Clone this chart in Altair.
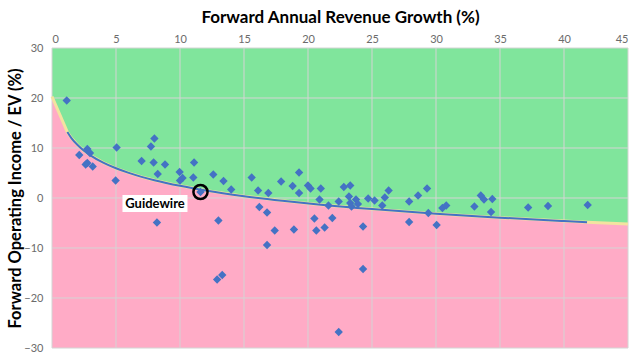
import altair as alt
import pandas as pd

# Scatter values (x = forward revenue growth %, y = forward op income / EV %)
growth = [1.15, 2.13, 2.76, 2.97, 2.76, 2.63, 3.18, 5.05, 4.97, 7.0, 7.73, 8.0, 7.94, 8.83, 8.26,
          9.97, 10.2, 10.0, 11.1, 11.04, 11.6, 12.6, 13.4, 14.0, 15.6, 16.1, 16.9, 17.9, 19.3, 18.8,
          19.3, 20.0, 20.2, 21.0, 20.9, 21.6, 22.4, 16.2, 16.8, 20.5, 21.9, 22.8, 23.3, 23.2, 23.3,
          23.4, 23.75, 23.9, 24.7, 25.2, 26.0, 26.3, 25.8, 27.9, 28.6, 29.3, 29.4, 30.5, 30.8, 33.0,
          33.5, 33.75, 27.9, 30.05, 34.4, 34.3, 37.2, 38.75, 41.85, 13.0, 17.4, 18.9, 16.8, 12.9,
          13.3, 20.65, 21.3, 24.3, 24.3, 22.4, 8.2]
op_income = [19.5, 8.6, 9.8, 9.0, 7.0, 6.7, 6.3, 10.1, 3.5, 7.4, 10.3, 11.9, 7.1, 6.7, 4.8,
             5.2, 4.0, 3.5, 7.1, 4.1, 1.2, 4.7, 3.4, 1.7, 4.1, 1.5, 1.0, 3.3, 5.1, 2.4,
             1.0, 2.5, 1.9, 1.9, -0.3, -1.5, -0.7, -1.8, -2.9, -4.1, -4.0, 2.2, 2.5, 0.3, -1.0,
             -1.7, -0.3, -1.2, -0.1, -0.5, 0.1, 1.5, -1.5, -0.7, 0.5, 1.9, -3.0, -2.0, -1.5, -1.7,
             0.5, -0.3, -4.8, -5.4, -0.2, -2.8, -1.9, -1.6, -1.4, -4.5, -6.5, -6.3, -9.4, -16.3,
             -15.4, -6.5, -5.9, -5.7, -14.2, -26.8, -4.9]

# Boundary between zones (trend curve)
boundary_x = [0, 1.2, 1.5, 2, 2.5, 3, 4, 5, 6, 7, 8, 10, 12, 15, 18, 21, 25, 30, 35, 40, 41.8, 45]
boundary_y = [20.3, 13.2, 12.04, 10.59, 9.45, 8.53, 7.07, 5.94, 5.02, 4.23, 3.56, 2.43, 1.50,
              0.37, -0.55, -1.34, -2.22, -3.14, -3.93, -4.60, -4.83, -5.2]

x_ticks = [0, 5, 10, 15, 20, 25, 30, 35, 40, 45]
y_ticks = [-30, -20, -10, 0, 10, 20, 30]

highlight_name = ["Guidewire"]
highlight_x = [11.6]
highlight_y = [1.2]

pts = pd.DataFrame({"g": growth, "oi": op_income})
bnd = pd.DataFrame({"g": boundary_x, "b": boundary_y, "top": 30, "bottom": -30})
trend = bnd[(bnd["g"] >= 1.2) & (bnd["g"] <= 41.8)]
hl = pd.DataFrame({"name": highlight_name, "g": highlight_x, "oi": highlight_y})
xg = pd.DataFrame({"v": x_ticks})
yg = pd.DataFrame({"v": y_ticks})

xs = alt.Scale(domain=[0, 45], nice=False, zero=False)
ys = alt.Scale(domain=[-30, 30], nice=False, zero=False)

FONT = "Lato"
X_TITLE = "Forward Annual Revenue Growth (%)"
Y_TITLE = "Forward Operating Income / EV (%)"

x_axis = alt.Axis(orient="top", values=x_ticks, grid=False, domain=False, ticks=False,
                  labelColor="#6b6b6b", labelFont=FONT, labelFontSize=11, labelPadding=4,
                  titleFont=FONT, titleFontSize=17,
                  titleFontWeight="bold", titleColor="black", titleY=-31, titleBaseline="middle")
y_axis = alt.Axis(values=y_ticks, grid=False, domain=False, ticks=False,
                  labelColor="#6b6b6b", labelFont=FONT, labelFontSize=11, labelPadding=9,
                  titleFont=FONT, titleFontSize=16.5,
                  titleFontWeight="bold", titleColor="black", titleX=-37, titleBaseline="middle")


def X(field):
    return alt.X(field, scale=xs, axis=x_axis, title=X_TITLE)


def Y(field):
    return alt.Y(field, scale=ys, axis=y_axis, title=Y_TITLE)


pink = alt.Chart(bnd).mark_area(color="#FFABC6", opacity=1).encode(
    x=X("g:Q"), y=Y("bottom:Q"), y2="b:Q")
green = alt.Chart(bnd).mark_area(color="#80E59C", opacity=1).encode(
    x=X("g:Q"), y=Y("b:Q"), y2="top:Q")
vgrid = alt.Chart(xg).mark_rule(color="#D4D4D4", strokeWidth=1).encode(x=X("v:Q"))
hgrid = alt.Chart(yg).mark_rule(color="#D4D4D4", strokeWidth=1).encode(y=Y("v:Q"))
yellow = alt.Chart(bnd).mark_line(color="#F3E3A0", strokeWidth=3).encode(
    x=X("g:Q"), y=Y("b:Q"))
blue = alt.Chart(trend).mark_line(color="#4472C4", strokeWidth=2, interpolate="monotone").encode(
    x=X("g:Q"), y=Y("b:Q"))
dots = alt.Chart(pts).mark_point(shape="diamond", filled=True, size=70, color="#4472C4",
                                 opacity=1).encode(x=X("g:Q"), y=Y("oi:Q"))
ring = alt.Chart(hl).mark_point(shape="circle", filled=False, size=200, color="black",
                                strokeWidth=2.5, opacity=1).encode(x=X("g:Q"), y=Y("oi:Q"))
box = alt.Chart(hl).mark_rect(color="white", xOffset=-78, x2Offset=-13, yOffset=3,
                              y2Offset=20).encode(
    x=X("g:Q"), x2="g:Q", y=Y("oi:Q"), y2="oi:Q")
label = alt.Chart(hl).mark_text(font=FONT, fontSize=13, fontWeight="bold", color="black",
                                dx=-45.5, dy=12, align="center", baseline="middle").encode(
    x=X("g:Q"), y=Y("oi:Q"), text="name:N")

chart = alt.layer(pink, green, vgrid, hgrid, yellow, blue, dots, ring, box, label).properties(
    width=576, height=300,
    autosize=alt.AutoSizeParams(type="none"),
    padding={"left": 52, "top": 48, "right": 12, "bottom": 9},
    background="white",
).configure_view(stroke=None)

chart.save("out.html", embed_options={"renderer": "svg", "actions": False})
